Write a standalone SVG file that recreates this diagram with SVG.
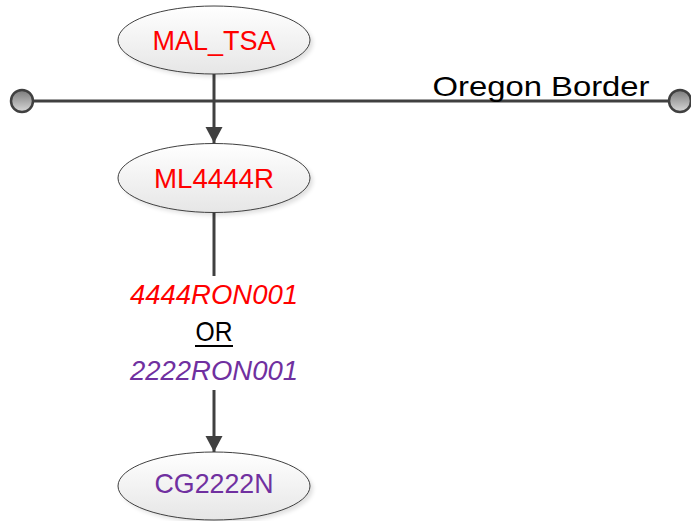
<svg xmlns="http://www.w3.org/2000/svg" width="691" height="521" viewBox="0 0 691 521">
  <defs>
    <linearGradient id="nodeFill" x1="0" y1="0" x2="0" y2="1">
      <stop offset="0" stop-color="#ffffff"/>
      <stop offset="1" stop-color="#e6e6e6"/>
    </linearGradient>
    <linearGradient id="endFill" x1="0" y1="0" x2="0" y2="1">
      <stop offset="0" stop-color="#7a7a7a"/>
      <stop offset="1" stop-color="#d8d8d8"/>
    </linearGradient>
    <filter id="soft" x="-20%" y="-20%" width="140%" height="140%">
      <feGaussianBlur stdDeviation="2"/>
    </filter>
    <marker id="arrow" markerUnits="userSpaceOnUse" markerWidth="18" markerHeight="18" refX="16" refY="9" orient="auto">
      <path d="M0,0.5 L16,9 L0,17.5 Z" fill="#404040"/>
    </marker>
  </defs>
  <style>
    .shadow { fill: #000; opacity: 0.12; filter: url(#soft); }
    .node { fill: url(#nodeFill); stroke: #404040; stroke-width: 1; }
    .label { font-family: "Liberation Sans", Arial, sans-serif; font-size: 28px; text-anchor: middle; }
    .red { fill: #ff0000; }
    .purple { fill: #7030a0; }
    .edge { stroke: #404040; stroke-width: 3; fill: none; }
    .end { fill: url(#endFill); stroke: #404040; stroke-width: 2.5; }
  </style>

  <!-- border line with its two end points -->
  <g id="oregon-border">
    <line class="edge" x1="22" y1="101" x2="680" y2="101"/>
    <circle class="end" cx="22" cy="101" r="11"/>
    <circle class="end" cx="680" cy="101" r="11"/>
    <text x="541" y="96" class="label" fill="#000" font-size="30" textLength="217" lengthAdjust="spacingAndGlyphs">Oregon Border</text>
  </g>

  <g id="connectors">
    <line class="edge" x1="214" y1="74" x2="214" y2="143" marker-end="url(#arrow)"/>
    <line class="edge" x1="214" y1="212" x2="214" y2="276"/>
    <line class="edge" x1="214" y1="390" x2="214" y2="452" marker-end="url(#arrow)"/>
  </g>

  <g id="link-label">
    <text x="214" y="304" class="label red" font-style="italic" textLength="168" lengthAdjust="spacingAndGlyphs">4444RON001</text>
    <text x="214" y="341" class="label" fill="#000" textLength="37" lengthAdjust="spacingAndGlyphs">OR</text>
    <line x1="195" y1="346" x2="233" y2="346" stroke="#000" stroke-width="2"/>
    <text x="214" y="380" class="label purple" font-style="italic" textLength="168" lengthAdjust="spacingAndGlyphs">2222RON001</text>
  </g>

  <g id="node-mal-tsa">
    <ellipse class="shadow" cx="217" cy="43" rx="96" ry="34"/>
    <ellipse class="node" cx="214" cy="40" rx="96" ry="34"/>
    <text x="214" y="50" class="label red" textLength="123" lengthAdjust="spacingAndGlyphs">MAL_TSA</text>
  </g>

  <g id="node-ml4444r">
    <ellipse class="shadow" cx="217" cy="181" rx="96" ry="34.5"/>
    <ellipse class="node" cx="214" cy="178" rx="96" ry="34.5"/>
    <text x="214" y="188" class="label red" textLength="120" lengthAdjust="spacingAndGlyphs">ML4444R</text>
  </g>

  <g id="node-cg2222n">
    <ellipse class="shadow" cx="217" cy="489" rx="96" ry="34"/>
    <ellipse class="node" cx="214" cy="486" rx="96" ry="34"/>
    <text x="214" y="493" class="label purple" textLength="119" lengthAdjust="spacingAndGlyphs">CG2222N</text>
  </g>
</svg>
